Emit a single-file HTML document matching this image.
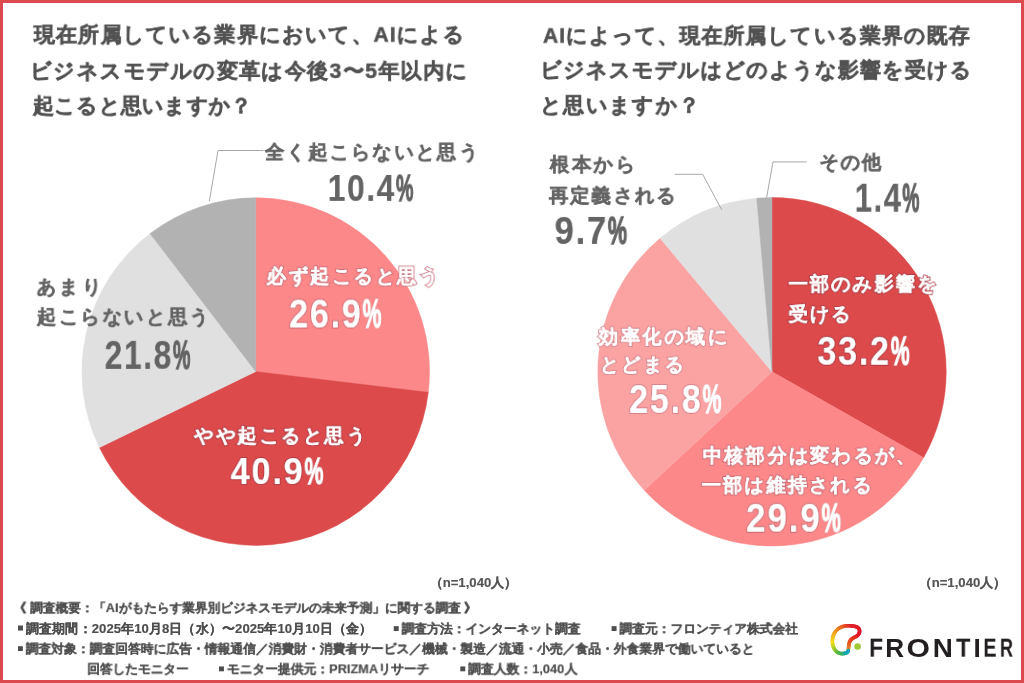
<!DOCTYPE html>
<html lang="ja"><head><meta charset="utf-8"><style>
html,body{margin:0;padding:0;}
body{width:1024px;height:683px;position:relative;overflow:hidden;background:#fff;font-family:"Liberation Sans",sans-serif;}
.frame{position:absolute;left:0;top:0;width:1024px;height:683px;box-sizing:border-box;border:3px solid #db4a4f;}
.t{position:absolute;left:0;top:0;white-space:nowrap;line-height:1;font-weight:bold;transform-origin:0 0;will-change:transform;}
</style></head><body>
<svg width="1024" height="683" viewBox="0 0 1024 683" style="position:absolute;left:0;top:0">
<path d="M255.75 371.60L255.75 197.80A173.80 173.80 0 0 1 428.31 392.30Z" fill="#fd888a" stroke="#fd888a" stroke-width="0.5"/>
<path d="M255.75 371.60L428.31 392.30A173.80 173.80 0 0 1 99.43 447.57Z" fill="#dc4a4b" stroke="#dc4a4b" stroke-width="0.5"/>
<path d="M255.75 371.60L99.43 447.57A173.80 173.80 0 0 1 150.09 233.60Z" fill="#e0e0e0" stroke="#e0e0e0" stroke-width="0.5"/>
<path d="M255.75 371.60L150.09 233.60A173.80 173.80 0 0 1 255.75 197.80Z" fill="#b2b2b2" stroke="#b2b2b2" stroke-width="0.5"/>
<path d="M772.00 371.80L772.00 197.60A174.20 174.20 0 0 1 923.59 457.63Z" fill="#dc4a4b" stroke="#dc4a4b" stroke-width="0.5"/>
<path d="M772.00 371.80L923.59 457.63A174.20 174.20 0 0 1 644.27 490.25Z" fill="#fd888a" stroke="#fd888a" stroke-width="0.5"/>
<path d="M772.00 371.80L644.27 490.25A174.20 174.20 0 0 1 660.12 238.28Z" fill="#fba3a3" stroke="#fba3a3" stroke-width="0.5"/>
<path d="M772.00 371.80L660.12 238.28A174.20 174.20 0 0 1 756.70 198.27Z" fill="#e0e0e0" stroke="#e0e0e0" stroke-width="0.5"/>
<path d="M772.00 371.80L756.70 198.27A174.20 174.20 0 0 1 772.00 197.60Z" fill="#b2b2b2" stroke="#b2b2b2" stroke-width="0.5"/>
<polyline points="209.3,201.2 218,150.5 263.5,150.5" fill="none" stroke="#a8a8a8" stroke-width="1"/>
<polyline points="721.7,209.8 702.7,174.3 674.7,174.3" fill="none" stroke="#a8a8a8" stroke-width="1"/>
<g stroke-width="3.6" stroke-linecap="round" fill="none"><line x1="848.30" y1="650.50" x2="848.41" y2="649.37" stroke="#e19628"/><line x1="848.41" y1="649.37" x2="848.51" y2="648.22" stroke="#e18e27"/><line x1="848.51" y1="648.22" x2="848.60" y2="647.08" stroke="#e28626"/><line x1="848.60" y1="647.08" x2="848.71" y2="645.95" stroke="#e37e25"/><line x1="848.71" y1="645.95" x2="848.86" y2="644.84" stroke="#e37624"/><line x1="848.86" y1="644.84" x2="849.05" y2="643.76" stroke="#e46e23"/><line x1="849.05" y1="643.76" x2="849.31" y2="642.73" stroke="#e56622"/><line x1="849.31" y1="642.73" x2="849.66" y2="641.75" stroke="#e55e21"/><line x1="849.66" y1="641.75" x2="850.10" y2="640.84" stroke="#e65620"/><line x1="850.10" y1="640.84" x2="850.66" y2="640.00" stroke="#e74e1f"/><line x1="850.66" y1="640.00" x2="851.36" y2="639.25" stroke="#e7461e"/><line x1="851.36" y1="639.25" x2="852.20" y2="638.60" stroke="#e7421e"/><line x1="852.20" y1="638.60" x2="853.04" y2="638.12" stroke="#e73d1f"/><line x1="853.04" y1="638.12" x2="853.91" y2="637.65" stroke="#e63920"/><line x1="853.91" y1="637.65" x2="854.78" y2="637.20" stroke="#e53421"/><line x1="854.78" y1="637.20" x2="855.63" y2="636.73" stroke="#e53022"/><line x1="855.63" y1="636.73" x2="856.45" y2="636.24" stroke="#e42c23"/><line x1="856.45" y1="636.24" x2="857.21" y2="635.71" stroke="#e42724"/><line x1="857.21" y1="635.71" x2="857.90" y2="635.13" stroke="#e32324"/><line x1="857.90" y1="635.13" x2="858.50" y2="634.47" stroke="#e31f25"/><line x1="858.50" y1="634.47" x2="858.99" y2="633.72" stroke="#e21a26"/><line x1="858.99" y1="633.72" x2="859.35" y2="632.87" stroke="#e21627"/><line x1="859.35" y1="632.87" x2="859.56" y2="631.90" stroke="#e11428"/><line x1="859.56" y1="631.90" x2="859.60" y2="630.80" stroke="#e11528"/><line x1="859.60" y1="630.80" x2="859.42" y2="629.75" stroke="#e11628"/><line x1="859.42" y1="629.75" x2="859.01" y2="628.85" stroke="#e11728"/><line x1="859.01" y1="628.85" x2="858.39" y2="628.09" stroke="#e11928"/><line x1="858.39" y1="628.09" x2="857.58" y2="627.46" stroke="#e11a28"/><line x1="857.58" y1="627.46" x2="856.60" y2="626.94" stroke="#e11b28"/><line x1="856.60" y1="626.94" x2="855.47" y2="626.54" stroke="#e11c28"/><line x1="855.47" y1="626.54" x2="854.23" y2="626.23" stroke="#e11d28"/><line x1="854.23" y1="626.23" x2="852.89" y2="626.01" stroke="#e11e28"/><line x1="852.89" y1="626.01" x2="851.47" y2="625.86" stroke="#e12028"/><line x1="851.47" y1="625.86" x2="850.00" y2="625.79" stroke="#e12128"/><line x1="850.00" y1="625.79" x2="848.50" y2="625.77" stroke="#e12228"/><line x1="848.50" y1="625.77" x2="847.00" y2="625.80" stroke="#e12927"/><line x1="847.00" y1="625.80" x2="844.82" y2="626.03" stroke="#e43826"/><line x1="844.82" y1="626.03" x2="842.79" y2="626.51" stroke="#e64624"/><line x1="842.79" y1="626.51" x2="840.92" y2="627.22" stroke="#e85523"/><line x1="840.92" y1="627.22" x2="839.21" y2="628.14" stroke="#ea6321"/><line x1="839.21" y1="628.14" x2="837.68" y2="629.26" stroke="#ec7220"/><line x1="837.68" y1="629.26" x2="836.32" y2="630.55" stroke="#ee801f"/><line x1="836.32" y1="630.55" x2="835.16" y2="632.00" stroke="#f08e1d"/><line x1="835.16" y1="632.00" x2="834.19" y2="633.59" stroke="#f09a1c"/><line x1="834.19" y1="633.59" x2="833.42" y2="635.31" stroke="#f1a51a"/><line x1="833.42" y1="635.31" x2="832.86" y2="637.12" stroke="#f2b019"/><line x1="832.86" y1="637.12" x2="832.52" y2="639.03" stroke="#f2bc18"/><line x1="832.52" y1="639.03" x2="832.40" y2="641.00" stroke="#f3c716"/><line x1="832.40" y1="641.00" x2="832.48" y2="642.82" stroke="#f4d315"/><line x1="832.48" y1="642.82" x2="832.73" y2="644.52" stroke="#f4dd14"/><line x1="832.73" y1="644.52" x2="833.12" y2="646.10" stroke="#e1d91a"/><line x1="833.12" y1="646.10" x2="833.66" y2="647.56" stroke="#ced41f"/><line x1="833.66" y1="647.56" x2="834.33" y2="648.87" stroke="#bacf25"/><line x1="834.33" y1="648.87" x2="835.11" y2="650.04" stroke="#a7cb2b"/><line x1="835.11" y1="650.04" x2="836.01" y2="651.05" stroke="#94c631"/><line x1="836.01" y1="651.05" x2="837.01" y2="651.91" stroke="#81c236"/><line x1="837.01" y1="651.91" x2="838.10" y2="652.60" stroke="#6ebd3c"/><line x1="838.10" y1="652.60" x2="839.26" y2="653.12" stroke="#5bb842"/><line x1="839.26" y1="653.12" x2="840.50" y2="653.45" stroke="#4db54a"/><line x1="840.50" y1="653.45" x2="841.80" y2="653.60" stroke="#47b456"/><line x1="841.80" y1="653.60" x2="842.70" y2="653.60" stroke="#40b261"/><line x1="842.70" y1="653.60" x2="843.55" y2="653.54" stroke="#3ab16d"/><line x1="843.55" y1="653.54" x2="844.33" y2="653.44" stroke="#33af78"/><line x1="844.33" y1="653.44" x2="845.06" y2="653.29" stroke="#2dae84"/><line x1="845.06" y1="653.29" x2="845.73" y2="653.08" stroke="#27ad90"/><line x1="845.73" y1="653.08" x2="846.33" y2="652.84" stroke="#20ab9b"/><line x1="846.33" y1="652.84" x2="846.85" y2="652.55" stroke="#1aaaa7"/><line x1="846.85" y1="652.55" x2="847.30" y2="652.21" stroke="#18a9ad"/><line x1="847.30" y1="652.21" x2="847.68" y2="651.84" stroke="#17a8b1"/><line x1="847.68" y1="651.84" x2="847.97" y2="651.43" stroke="#16a7b5"/><line x1="847.97" y1="651.43" x2="848.18" y2="650.98" stroke="#15a6ba"/><line x1="848.18" y1="650.98" x2="848.30" y2="650.50" stroke="#14a5be"/></g><circle cx="857.6" cy="646.5" r="3.3" fill="#a3c838"/>
<polyline points="766.6,197.6 773,161.9 806.6,161.9" fill="none" stroke="#a8a8a8" stroke-width="1"/>
</svg>
<div class="t" style="font-size:22px;font-weight:bold;color:#525252;-webkit-text-stroke:0.55px #525252;letter-spacing:1.18px;transform:matrix(0.9545,0,0,0.9545,33.95,24.48)">現在所属している業界において、AIによる</div><div class="t" style="font-size:22px;font-weight:bold;color:#525252;-webkit-text-stroke:0.55px #525252;letter-spacing:1.45px;transform:matrix(0.9545,0,0,0.9545,30.14,60.80)">ビジネスモデルの変革は今後3〜5年以内に</div><div class="t" style="font-size:22px;font-weight:bold;color:#525252;-webkit-text-stroke:0.55px #525252;letter-spacing:0.24px;transform:matrix(0.9545,0,0,0.9545,33.00,95.60)">起こると思いますか？</div><div class="t" style="font-size:22px;font-weight:bold;color:#525252;-webkit-text-stroke:0.55px #525252;letter-spacing:1.04px;transform:matrix(0.9545,0,0,0.9545,543.00,25.48)">AIによって、現在所属している業界の既存</div><div class="t" style="font-size:22px;font-weight:bold;color:#525252;-webkit-text-stroke:0.55px #525252;letter-spacing:1.02px;transform:matrix(0.9545,0,0,0.9545,540.14,59.85)">ビジネスモデルはどのような影響を受ける</div><div class="t" style="font-size:22px;font-weight:bold;color:#525252;-webkit-text-stroke:0.55px #525252;letter-spacing:1.37px;transform:matrix(0.9545,0,0,0.9545,540.14,95.12)">と思いますか？</div><div class="t" style="font-size:20px;font-weight:bold;color:#646464;-webkit-text-stroke:0.45px #646464;letter-spacing:2.28px;transform:matrix(0.9650,0,0,0.9650,265.00,142.17)">全く起こらないと思う</div><div class="t" style="font-size:39px;font-weight:bold;color:#646464;letter-spacing:2px;-webkit-text-stroke:0.2px #646464;transform:matrix(0.8117,0,0,0.9586,327.78,169.21)">10.4<span style="display:inline-block;transform:scaleX(0.62);transform-origin:0 0;-webkit-text-stroke-width:1.4px">%</span></div><div class="t" style="font-size:20px;font-weight:bold;color:rgba(200,105,115,.9);-webkit-text-stroke:2.25px rgba(200,105,115,.9);letter-spacing:2.58px;transform:matrix(0.9650,0,0,0.9650,266.60,266.19)">必ず起こると思う</div><div class="t" style="font-size:20px;font-weight:bold;color:#ffffff;-webkit-text-stroke:0.45px #ffffff;letter-spacing:2.58px;transform:matrix(0.9650,0,0,0.9650,266.60,266.19)">必ず起こると思う</div><div class="t" style="font-size:39px;font-weight:bold;color:rgba(200,105,115,.9);letter-spacing:2px;-webkit-text-stroke:2.0px rgba(200,105,115,.9);transform:matrix(0.8740,0,0,1.0414,289.13,293.59)">26.9<span style="display:inline-block;transform:scaleX(0.62);transform-origin:0 0;-webkit-text-stroke-width:1.4px">%</span></div><div class="t" style="font-size:39px;font-weight:bold;color:#ffffff;letter-spacing:2px;-webkit-text-stroke:0.2px #ffffff;transform:matrix(0.8740,0,0,1.0414,289.13,293.59)">26.9<span style="display:inline-block;transform:scaleX(0.62);transform-origin:0 0;-webkit-text-stroke-width:1.4px">%</span></div><div class="t" style="font-size:20px;font-weight:bold;color:#646464;-webkit-text-stroke:0.45px #646464;letter-spacing:3.43px;transform:matrix(0.9650,0,0,0.9650,36.63,276.88)">あまり</div><div class="t" style="font-size:20px;font-weight:bold;color:#646464;-webkit-text-stroke:0.45px #646464;letter-spacing:2.59px;transform:matrix(0.9650,0,0,0.9650,36.90,306.87)">起こらないと思う</div><div class="t" style="font-size:39px;font-weight:bold;color:#646464;letter-spacing:2px;-webkit-text-stroke:0.2px #646464;transform:matrix(0.8125,0,0,1.0241,104.69,334.88)">21.8<span style="display:inline-block;transform:scaleX(0.62);transform-origin:0 0;-webkit-text-stroke-width:1.4px">%</span></div><div class="t" style="font-size:20px;font-weight:bold;color:rgba(170,55,65,.9);-webkit-text-stroke:2.25px rgba(170,55,65,.9);letter-spacing:2.58px;transform:matrix(0.9650,0,0,0.9650,194.00,425.77)">やや起こると思う</div><div class="t" style="font-size:20px;font-weight:bold;color:#ffffff;-webkit-text-stroke:0.45px #ffffff;letter-spacing:2.58px;transform:matrix(0.9650,0,0,0.9650,194.00,425.77)">やや起こると思う</div><div class="t" style="font-size:39px;font-weight:bold;color:rgba(170,55,65,.9);letter-spacing:2px;-webkit-text-stroke:2.0px rgba(170,55,65,.9);transform:matrix(0.8800,0,0,0.9655,230.60,452.17)">40.9<span style="display:inline-block;transform:scaleX(0.62);transform-origin:0 0;-webkit-text-stroke-width:1.4px">%</span></div><div class="t" style="font-size:39px;font-weight:bold;color:#ffffff;letter-spacing:2px;-webkit-text-stroke:0.2px #ffffff;transform:matrix(0.8800,0,0,0.9655,230.60,452.17)">40.9<span style="display:inline-block;transform:scaleX(0.62);transform-origin:0 0;-webkit-text-stroke-width:1.4px">%</span></div><div class="t" style="font-size:20px;font-weight:bold;color:#646464;-webkit-text-stroke:0.45px #646464;letter-spacing:2.53px;transform:matrix(0.9650,0,0,0.9650,549.97,154.52)">根本から</div><div class="t" style="font-size:20px;font-weight:bold;color:#646464;-webkit-text-stroke:0.45px #646464;letter-spacing:2.20px;transform:matrix(0.9650,0,0,0.9650,549.00,185.60)">再定義される</div><div class="t" style="font-size:39px;font-weight:bold;color:#646464;letter-spacing:2px;-webkit-text-stroke:0.2px #646464;transform:matrix(0.8888,0,0,1.0138,554.51,210.93)">9.7<span style="display:inline-block;transform:scaleX(0.62);transform-origin:0 0;-webkit-text-stroke-width:1.4px">%</span></div><div class="t" style="font-size:20px;font-weight:bold;color:#646464;-webkit-text-stroke:0.45px #646464;letter-spacing:1.90px;transform:matrix(0.9650,0,0,0.9650,819.33,152.37)">その他</div><div class="t" style="font-size:39px;font-weight:bold;color:#646464;letter-spacing:2px;-webkit-text-stroke:0.2px #646464;transform:matrix(0.7924,0,0,1.0448,854.82,176.78)">1.4<span style="display:inline-block;transform:scaleX(0.62);transform-origin:0 0;-webkit-text-stroke-width:1.4px">%</span></div><div class="t" style="font-size:20px;font-weight:bold;color:rgba(170,55,65,.9);-webkit-text-stroke:2.25px rgba(170,55,65,.9);letter-spacing:2.15px;transform:matrix(0.9650,0,0,0.9650,788.60,273.97)">一部のみ影響を</div><div class="t" style="font-size:20px;font-weight:bold;color:#ffffff;-webkit-text-stroke:0.45px #ffffff;letter-spacing:2.15px;transform:matrix(0.9650,0,0,0.9650,788.60,273.97)">一部のみ影響を</div><div class="t" style="font-size:20px;font-weight:bold;color:rgba(170,55,65,.9);-webkit-text-stroke:2.25px rgba(170,55,65,.9);letter-spacing:2.24px;transform:matrix(0.9650,0,0,0.9650,788.60,304.12)">受ける</div><div class="t" style="font-size:20px;font-weight:bold;color:#ffffff;-webkit-text-stroke:0.45px #ffffff;letter-spacing:2.24px;transform:matrix(0.9650,0,0,0.9650,788.60,304.12)">受ける</div><div class="t" style="font-size:39px;font-weight:bold;color:rgba(170,55,65,.9);letter-spacing:2px;-webkit-text-stroke:2.0px rgba(170,55,65,.9);transform:matrix(0.8750,0,0,1.0276,817.33,330.86)">33.2<span style="display:inline-block;transform:scaleX(0.62);transform-origin:0 0;-webkit-text-stroke-width:1.4px">%</span></div><div class="t" style="font-size:39px;font-weight:bold;color:#ffffff;letter-spacing:2px;-webkit-text-stroke:0.2px #ffffff;transform:matrix(0.8750,0,0,1.0276,817.33,330.86)">33.2<span style="display:inline-block;transform:scaleX(0.62);transform-origin:0 0;-webkit-text-stroke-width:1.4px">%</span></div><div class="t" style="font-size:20px;font-weight:bold;color:rgba(210,125,135,.9);-webkit-text-stroke:2.25px rgba(210,125,135,.9);letter-spacing:2.50px;transform:matrix(0.9650,0,0,0.9650,598.80,326.73)">効率化の域に</div><div class="t" style="font-size:20px;font-weight:bold;color:#ffffff;-webkit-text-stroke:0.45px #ffffff;letter-spacing:2.50px;transform:matrix(0.9650,0,0,0.9650,598.80,326.73)">効率化の域に</div><div class="t" style="font-size:20px;font-weight:bold;color:rgba(210,125,135,.9);-webkit-text-stroke:2.25px rgba(210,125,135,.9);letter-spacing:2.32px;transform:matrix(0.9650,0,0,0.9650,599.81,354.58)">とどまる</div><div class="t" style="font-size:20px;font-weight:bold;color:#ffffff;-webkit-text-stroke:0.45px #ffffff;letter-spacing:2.32px;transform:matrix(0.9650,0,0,0.9650,599.81,354.58)">とどまる</div><div class="t" style="font-size:39px;font-weight:bold;color:rgba(210,125,135,.9);letter-spacing:2px;-webkit-text-stroke:2.0px rgba(210,125,135,.9);transform:matrix(0.8740,0,0,1.0448,629.13,377.98)">25.8<span style="display:inline-block;transform:scaleX(0.62);transform-origin:0 0;-webkit-text-stroke-width:1.4px">%</span></div><div class="t" style="font-size:39px;font-weight:bold;color:#ffffff;letter-spacing:2px;-webkit-text-stroke:0.2px #ffffff;transform:matrix(0.8740,0,0,1.0448,629.13,377.98)">25.8<span style="display:inline-block;transform:scaleX(0.62);transform-origin:0 0;-webkit-text-stroke-width:1.4px">%</span></div><div class="t" style="font-size:20px;font-weight:bold;color:rgba(200,105,115,.9);-webkit-text-stroke:2.25px rgba(200,105,115,.9);letter-spacing:2.23px;transform:matrix(0.9650,0,0,0.9650,702.90,445.55)">中核部分は変わるが、</div><div class="t" style="font-size:20px;font-weight:bold;color:#ffffff;-webkit-text-stroke:0.45px #ffffff;letter-spacing:2.23px;transform:matrix(0.9650,0,0,0.9650,702.90,445.55)">中核部分は変わるが、</div><div class="t" style="font-size:20px;font-weight:bold;color:rgba(200,105,115,.9);-webkit-text-stroke:2.25px rgba(200,105,115,.9);letter-spacing:2.24px;transform:matrix(0.9650,0,0,0.9650,701.80,475.17)">一部は維持される</div><div class="t" style="font-size:20px;font-weight:bold;color:#ffffff;-webkit-text-stroke:0.45px #ffffff;letter-spacing:2.24px;transform:matrix(0.9650,0,0,0.9650,701.80,475.17)">一部は維持される</div><div class="t" style="font-size:39px;font-weight:bold;color:rgba(200,105,115,.9);letter-spacing:2px;-webkit-text-stroke:2.0px rgba(200,105,115,.9);transform:matrix(0.8981,0,0,1.0379,746.10,497.81)">29.9<span style="display:inline-block;transform:scaleX(0.62);transform-origin:0 0;-webkit-text-stroke-width:1.4px">%</span></div><div class="t" style="font-size:39px;font-weight:bold;color:#ffffff;letter-spacing:2px;-webkit-text-stroke:0.2px #ffffff;transform:matrix(0.8981,0,0,1.0379,746.10,497.81)">29.9<span style="display:inline-block;transform:scaleX(0.62);transform-origin:0 0;-webkit-text-stroke-width:1.4px">%</span></div><div class="t" style="font-size:13px;font-weight:bold;color:#555555;-webkit-text-stroke:0.15px #555555;letter-spacing:0.00px;transform:matrix(1.0113,0,0,1.0113,429.51,576.32)">（n=1,040人）</div><div class="t" style="font-size:13px;font-weight:bold;color:#555555;-webkit-text-stroke:0.15px #555555;letter-spacing:0.00px;transform:matrix(1.0113,0,0,1.0113,918.51,576.32)">（n=1,040人）</div><div class="t" style="font-size:13px;font-weight:bold;color:#4d4d4d;-webkit-text-stroke:0.15px #4d4d4d;letter-spacing:0.00px;transform:matrix(0.9744,0,0,0.9744,13.68,601.38)">《 調査概要：「AIがもたらす業界別ビジネスモデルの未来予測」に関する調査 》</div><div class="t" style="font-size:13px;font-weight:bold;color:#4d4d4d;-webkit-text-stroke:0.15px #4d4d4d;letter-spacing:0.00px;transform:matrix(1.0120,0,0,1.0120,17.90,621.47)"><span style="display:inline-block;width:5px;height:5px;background:currentColor;vertical-align:2px;margin-right:3px"></span>調査期間：2025年10月8日（水）〜2025年10月10日（金）</div><div class="t" style="font-size:13px;font-weight:bold;color:#4d4d4d;-webkit-text-stroke:0.15px #4d4d4d;letter-spacing:0.00px;transform:matrix(0.9834,0,0,0.9834,393.75,622.16)"><span style="display:inline-block;width:5px;height:5px;background:currentColor;vertical-align:2px;margin-right:3px"></span>調査方法：インターネット調査</div><div class="t" style="font-size:13px;font-weight:bold;color:#4d4d4d;-webkit-text-stroke:0.15px #4d4d4d;letter-spacing:0.00px;transform:matrix(0.9811,0,0,0.9811,611.60,622.17)"><span style="display:inline-block;width:5px;height:5px;background:currentColor;vertical-align:2px;margin-right:3px"></span>調査元：フロンティア株式会社</div><div class="t" style="font-size:13px;font-weight:bold;color:#4d4d4d;-webkit-text-stroke:0.15px #4d4d4d;letter-spacing:0.00px;transform:matrix(0.9834,0,0,0.9834,17.90,642.21)"><span style="display:inline-block;width:5px;height:5px;background:currentColor;vertical-align:2px;margin-right:3px"></span>調査対象：調査回答時に広告・情報通信／消費財・消費者サービス／機械・製造／流通・小売／食品・外食業界で働いていると</div><div class="t" style="font-size:13px;font-weight:bold;color:#4d4d4d;-webkit-text-stroke:0.15px #4d4d4d;letter-spacing:0.00px;transform:matrix(0.9765,0,0,0.9765,87.22,662.50)">回答したモニター</div><div class="t" style="font-size:13px;font-weight:bold;color:#4d4d4d;-webkit-text-stroke:0.15px #4d4d4d;letter-spacing:0.00px;transform:matrix(0.9831,0,0,0.9831,219.00,662.46)"><span style="display:inline-block;width:5px;height:5px;background:currentColor;vertical-align:2px;margin-right:3px"></span>モニター提供元：PRIZMAリサーチ</div><div class="t" style="font-size:13px;font-weight:bold;color:#4d4d4d;-webkit-text-stroke:0.15px #4d4d4d;letter-spacing:0.00px;transform:matrix(0.9849,0,0,0.9849,460.30,662.45)"><span style="display:inline-block;width:5px;height:5px;background:currentColor;vertical-align:2px;margin-right:3px"></span>調査人数：1,040人</div><div class="t" style="font-size:25px;font-weight:bold;color:#231f20;letter-spacing:4px;transform:matrix(0.9167,0,0,1.0139,869.07,635.71)">F</div><div class="t" style="font-size:25px;font-weight:bold;color:#231f20;letter-spacing:4px;transform:matrix(1.0467,0,0,1.0139,885.21,635.71)">R</div><div class="t" style="font-size:25px;font-weight:bold;color:#231f20;letter-spacing:4px;transform:matrix(1.2059,0,0,1.0611,906.49,635.12)">O</div><div class="t" style="font-size:25px;font-weight:bold;color:#231f20;letter-spacing:4px;transform:matrix(1.1143,0,0,1.0139,932.77,635.71)">N</div><div class="t" style="font-size:25px;font-weight:bold;color:#231f20;letter-spacing:4px;transform:matrix(0.9400,0,0,1.0139,956.10,635.71)">T</div><div class="t" style="font-size:25px;font-weight:bold;color:#231f20;letter-spacing:4px;transform:matrix(1.0500,0,0,1.0139,973.50,635.71)">I</div><div class="t" style="font-size:25px;font-weight:bold;color:#231f20;letter-spacing:4px;transform:matrix(0.7857,0,0,1.0139,983.43,635.71)">E</div><div class="t" style="font-size:25px;font-weight:bold;color:#231f20;letter-spacing:4px;transform:matrix(0.7267,0,0,1.0139,999.95,635.71)">R</div>
<div class="frame"></div>
</body></html>
